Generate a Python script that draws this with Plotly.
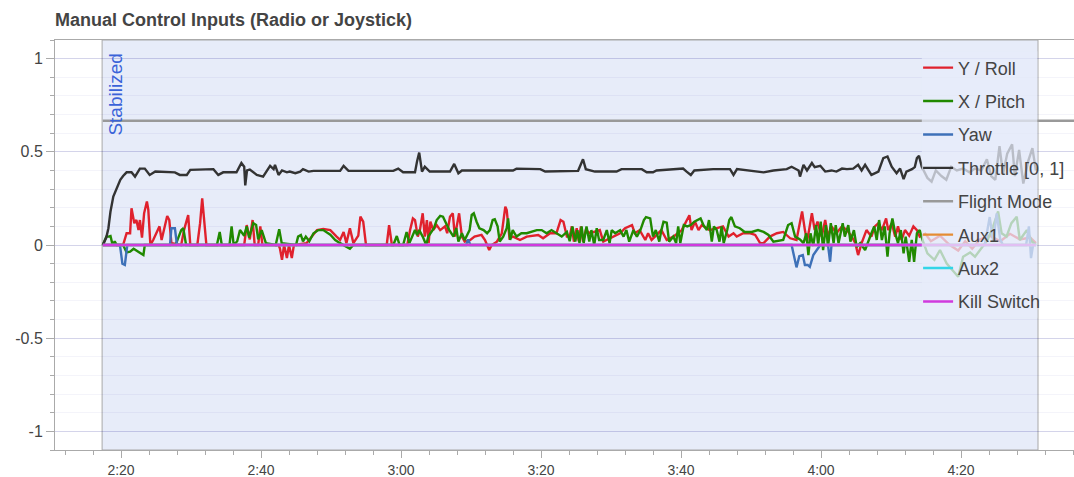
import plotly.graph_objects as go

# ---- data: (time in seconds, value) ---------------------------------------
THROTTLE = [
    (137.4, 0.0), (137.9, 0.04), (138.2, 0.09), (138.5, 0.18), (138.9, 0.26),
    (139.4, 0.31), (139.9, 0.35), (140.3, 0.37), (140.8, 0.39), (141.5, 0.39),
    (142.0, 0.367), (142.7, 0.41), (143.4, 0.41), (144.1, 0.376), (144.9, 0.394),
    (147.7, 0.39), (148.4, 0.376), (149.4, 0.376), (149.9, 0.403), (153.2, 0.407),
    (153.9, 0.376), (154.6, 0.39), (156.5, 0.39), (157.2, 0.44), (157.6, 0.42),
    (157.75, 0.32), (158.0, 0.40), (158.4, 0.405), (159.4, 0.376), (160.3, 0.367),
    (161.3, 0.425), (161.8, 0.407), (162.0, 0.43), (162.5, 0.376), (163.0, 0.40),
    (163.7, 0.39), (164.1, 0.394), (164.9, 0.385), (165.6, 0.394), (166.0, 0.407),
    (166.8, 0.394), (167.5, 0.398), (171.3, 0.398), (171.8, 0.425), (172.5, 0.398),
    (178.9, 0.398), (179.6, 0.41), (180.3, 0.39), (182.0, 0.39), (182.3, 0.45),
    (182.6, 0.496), (183.0, 0.394), (183.4, 0.42), (184.1, 0.394), (187.0, 0.394),
    (187.6, 0.435), (188.2, 0.385), (188.7, 0.40), (196.0, 0.40), (196.5, 0.41),
    (199.9, 0.407), (200.6, 0.394), (205.3, 0.398), (206.0, 0.46), (206.4, 0.407),
    (207.7, 0.394), (210.8, 0.394), (211.5, 0.407), (214.4, 0.407), (215.1, 0.39),
    (216.0, 0.39), (216.5, 0.40), (220.3, 0.41), (220.8, 0.394), (221.4, 0.376),
    (221.9, 0.40), (224.6, 0.407), (227.0, 0.407), (227.5, 0.376), (228.0, 0.407),
    (231.8, 0.39), (233.2, 0.40), (235.1, 0.407), (235.8, 0.42), (236.8, 0.40),
    (237.0, 0.367), (237.5, 0.43), (238.0, 0.40), (238.7, 0.44), (239.1, 0.418),
    (239.9, 0.425), (240.6, 0.394), (241.5, 0.40), (242.2, 0.394), (243.0, 0.41),
    (243.7, 0.407), (244.6, 0.41), (245.3, 0.43), (245.8, 0.40), (246.3, 0.43),
    (246.8, 0.40), (247.2, 0.376), (248.2, 0.394), (248.9, 0.466), (249.5, 0.475),
    (250.1, 0.42), (250.8, 0.385), (251.3, 0.41), (251.8, 0.353), (252.2, 0.394),
    (253.0, 0.407), (253.4, 0.418), (253.7, 0.466), (254.0, 0.478), (254.4, 0.42),
    (255.2, 0.36), (255.8, 0.34), (256.4, 0.40), (257.2, 0.37), (257.9, 0.35),
    (258.6, 0.42), (259.4, 0.40), (260.3, 0.41), (261.2, 0.39), (262.0, 0.41),
    (262.9, 0.40), (263.7, 0.46), (264.3, 0.37), (264.9, 0.35), (265.5, 0.53),
    (266.0, 0.38), (266.6, 0.49), (267.3, 0.54), (267.7, 0.37), (268.3, 0.51),
    (268.9, 0.33), (269.6, 0.45), (270.2, 0.52), (270.7, 0.40),
]

ROLL = [
    (137.4, 0.0), (140.3, 0.0), (140.8, 0.063), (141.3, 0.063), (141.5, 0.197),
    (141.9, 0.117), (142.2, 0.134), (142.5, 0.08), (142.7, 0.134), (143.0, 0.04),
    (143.3, 0.17), (143.7, 0.233), (143.9, 0.19), (144.2, 0.0), (144.6, 0.027),
    (145.5, 0.1), (145.8, 0.027), (146.6, 0.156), (146.9, 0.134), (147.2, 0.01),
    (148.6, 0.0), (149.0, 0.08), (149.6, 0.161), (149.9, 0.0), (150.9, 0.0),
    (151.3, 0.117), (151.6, 0.25), (152.0, 0.1), (152.2, 0.0), (157.6, 0.0),
    (157.96, 0.107), (158.4, 0.03), (158.8, 0.134), (159.1, 0.0), (159.6, 0.0),
    (159.9, 0.1), (160.2, 0.0), (162.5, 0.0), (162.7, -0.018), (163.0, -0.08),
    (163.3, 0.0), (163.7, -0.07), (164.0, 0.0), (164.4, -0.07), (164.7, 0.0),
    (166.5, 0.01), (167.2, 0.045), (168.0, 0.08), (168.9, 0.086), (169.9, 0.08),
    (170.8, 0.045), (171.3, 0.027), (171.8, 0.07), (172.2, 0.01), (172.7, 0.09),
    (173.2, 0.01), (173.9, 0.05), (174.2, 0.152), (174.6, 0.125), (175.0, 0.0),
    (177.96, 0.0), (178.3, 0.107), (178.7, 0.0), (180.9, 0.0), (181.3, 0.08),
    (181.7, 0.143), (182.0, 0.134), (182.4, 0.045), (182.7, 0.08), (183.1, 0.17),
    (183.4, 0.045), (183.7, 0.134), (183.95, 0.01), (184.2, 0.125), (184.6, 0.08),
    (185.1, 0.107), (185.6, 0.08), (186.3, 0.1), (186.6, 0.063), (187.0, 0.152),
    (187.4, 0.17), (187.7, 0.045), (188.3, 0.17), (188.7, 0.045), (189.1, 0.018),
    (189.9, 0.027), (190.5, 0.045), (191.5, 0.054), (192.0, 0.027), (192.6, -0.027),
    (192.96, 0.0), (193.7, 0.018), (194.4, 0.063), (194.9, 0.206), (195.1, 0.188),
    (195.5, 0.036), (196.0, 0.045), (197.0, 0.027), (197.96, 0.045), (199.6, 0.054),
    (200.3, 0.036), (201.3, 0.063), (202.2, 0.063), (202.8, 0.134), (203.2, 0.125),
    (203.7, 0.045), (204.1, 0.045), (204.4, 0.1), (204.7, 0.018), (205.1, 0.09),
    (205.4, 0.02), (205.7, 0.1), (206.0, 0.018), (206.4, 0.08), (207.0, 0.063),
    (208.4, 0.08), (208.9, 0.018), (210.3, 0.045), (211.3, 0.063), (212.0, 0.09),
    (213.0, 0.107), (213.4, 0.063), (214.1, 0.08), (214.9, 0.027), (215.3, 0.063),
    (215.8, 0.027), (217.2, 0.08), (217.96, 0.027), (218.9, 0.045), (220.1, 0.08),
    (220.8, 0.134), (221.2, 0.16), (221.5, 0.08), (222.0, 0.125), (222.5, 0.08),
    (222.96, 0.107), (224.1, 0.08), (225.1, 0.09), (226.0, 0.1), (226.8, 0.045),
    (227.5, 0.063), (227.96, 0.045), (228.9, 0.063), (229.9, 0.063), (230.6, 0.054),
    (231.3, 0.01), (231.8, 0.01), (232.7, 0.045), (233.7, 0.063), (234.6, 0.07),
    (235.6, 0.036), (236.5, 0.027), (237.0, 0.117), (237.3, 0.18), (237.7, 0.08),
    (238.0, 0.02), (238.3, 0.08), (238.7, 0.17), (239.1, 0.08), (239.5, 0.125),
    (240.1, 0.045), (240.6, 0.134), (241.0, 0.045), (241.5, 0.1), (242.2, 0.063),
    (243.0, 0.1), (243.7, 0.08), (244.4, 0.045), (244.9, 0.01), (245.3, -0.054),
    (245.8, 0.01), (246.5, 0.08), (247.2, 0.045), (247.7, 0.1), (248.2, 0.117),
    (248.7, 0.08), (249.3, 0.143), (249.6, 0.08), (250.1, 0.117), (250.6, 0.045),
    (251.0, 0.1), (251.5, 0.027), (252.0, 0.08), (252.6, 0.05), (253.2, 0.1),
    (253.7, 0.08), (254.1, 0.045), (254.9, 0.06), (255.7, 0.02), (257.0, 0.05),
    (258.4, 0.0), (259.6, -0.03), (260.6, 0.02), (261.6, -0.02), (262.7, 0.03),
    (264.1, 0.05), (265.6, 0.02), (267.0, 0.06), (268.4, 0.03), (269.9, 0.04),
    (270.7, 0.01),
]

PITCH = [
    (137.4, 0.0), (137.9, 0.045), (138.2, 0.045), (138.5, 0.048), (138.8, 0.0),
    (139.1, 0.02), (139.4, 0.0), (140.3, 0.0), (140.8, -0.04), (141.3, -0.036),
    (141.8, -0.02), (142.2, -0.03), (142.96, -0.045), (143.2, -0.054), (143.4, 0.0),
    (147.8, 0.0), (148.1, 0.03), (148.6, 0.08), (148.9, 0.09), (149.3, 0.0),
    (153.7, 0.0), (154.1, 0.07), (154.4, 0.0), (155.5, 0.0), (155.8, 0.1),
    (156.1, 0.0), (156.6, 0.02), (157.0, 0.08), (157.6, 0.05), (157.96, 0.1),
    (158.3, 0.04), (158.9, 0.117), (159.3, 0.107), (159.6, 0.03), (160.1, 0.08),
    (160.3, 0.06), (160.7, 0.01), (162.1, 0.0), (162.6, 0.085), (162.96, 0.01),
    (165.0, 0.0), (165.3, 0.045), (165.7, 0.054), (166.0, 0.02), (166.4, 0.045),
    (166.9, 0.02), (167.5, 0.063), (168.2, 0.08), (168.9, 0.08), (169.9, 0.055),
    (170.6, 0.027), (171.3, 0.01), (172.2, -0.01), (172.7, -0.02), (173.2, 0.0),
    (178.9, 0.0), (179.4, 0.048), (179.8, 0.0), (180.3, 0.0), (180.8, 0.07),
    (181.2, 0.01), (182.0, 0.08), (182.3, 0.054), (182.6, 0.08), (183.1, 0.045),
    (183.6, 0.0), (183.9, 0.045), (184.7, 0.09), (185.1, 0.134), (185.6, 0.156),
    (186.0, 0.152), (186.5, 0.107), (186.9, 0.08), (187.5, 0.045), (187.9, 0.09),
    (188.2, 0.018), (188.7, 0.063), (189.1, 0.027), (189.8, 0.08), (190.1, 0.161),
    (190.4, 0.17), (190.8, 0.125), (191.2, 0.09), (191.8, 0.08), (192.3, 0.063),
    (192.7, 0.08), (193.1, 0.134), (193.4, 0.138), (193.8, 0.1), (194.1, 0.018),
    (194.6, 0.045), (195.1, 0.09), (195.3, 0.143), (195.6, 0.027), (195.96, 0.08),
    (196.5, 0.045), (197.2, 0.063), (197.96, 0.063), (198.7, 0.07), (199.4, 0.08),
    (200.1, 0.08), (200.8, 0.063), (201.5, 0.08), (202.2, 0.063), (202.96, 0.045),
    (203.7, 0.07), (204.1, 0.02), (204.5, 0.1), (204.9, 0.018), (205.2, 0.08),
    (205.5, 0.01), (205.8, 0.1), (206.1, 0.01), (206.5, 0.1), (206.9, 0.018),
    (207.2, 0.08), (207.6, 0.0), (207.96, 0.09), (208.3, 0.027), (208.9, 0.027),
    (209.4, 0.08), (209.8, 0.01), (210.1, 0.08), (210.6, 0.063), (211.3, 0.08),
    (211.8, 0.045), (212.2, 0.08), (212.6, 0.018), (213.2, 0.08), (213.7, 0.045),
    (214.2, 0.08), (214.7, 0.134), (215.0, 0.15), (215.6, 0.143), (216.0, 0.045),
    (216.4, 0.08), (216.9, 0.018), (217.2, 0.08), (217.5, 0.125), (217.96, 0.12),
    (218.3, 0.018), (218.9, 0.045), (219.3, 0.01), (219.6, 0.1), (219.9, 0.01),
    (220.4, 0.107), (220.9, 0.1), (221.4, 0.107), (221.9, 0.125), (222.8, 0.143),
    (223.2, 0.107), (223.7, 0.08), (224.0, 0.134), (224.4, 0.018), (224.7, 0.1),
    (225.1, 0.08), (225.5, 0.018), (225.8, 0.1), (226.1, 0.01), (226.6, 0.08),
    (226.9, 0.134), (227.2, 0.15), (227.7, 0.1), (228.4, 0.09), (229.1, 0.07),
    (230.1, 0.07), (231.0, 0.08), (231.8, 0.07), (232.5, 0.054), (233.2, 0.018),
    (234.6, 0.027), (235.3, 0.107), (235.8, 0.117), (236.3, 0.045), (237.0, 0.03),
    (237.5, 0.01), (237.9, 0.063), (238.2, -0.054), (238.5, 0.063), (238.9, -0.005),
    (239.3, 0.107), (239.6, 0.0), (239.96, 0.125), (240.3, -0.027), (240.7, 0.107),
    (241.0, -0.01), (241.4, 0.117), (241.8, 0.01), (242.1, 0.107), (242.5, 0.01),
    (243.1, 0.117), (243.4, 0.045), (243.9, 0.107), (244.2, 0.018), (244.7, 0.08),
    (245.1, -0.01), (245.6, 0.01), (246.3, -0.027), (246.8, 0.027), (247.2, 0.063),
    (247.6, 0.1), (247.96, 0.027), (248.3, 0.134), (248.7, 0.027), (249.1, 0.1),
    (249.5, -0.063), (249.8, 0.063), (250.2, 0.143), (250.6, 0.063), (251.0, 0.01),
    (251.4, 0.08), (251.8, -0.045), (252.1, 0.045), (252.6, -0.09), (252.96, 0.027),
    (253.3, -0.09), (253.7, 0.063), (254.1, 0.08), (254.5, 0.027), (255.2, -0.045),
    (256.2, -0.08), (257.0, -0.027), (257.96, -0.1), (259.1, -0.15), (259.6, -0.17),
    (260.3, -0.063), (261.3, -0.04), (262.0, -0.063), (262.7, -0.027), (263.8, 0.027),
    (264.6, 0.1), (265.3, 0.18), (265.8, 0.063), (266.5, 0.045), (267.2, 0.117),
    (267.96, 0.152), (268.4, 0.027), (269.4, 0.08), (270.1, 0.02), (270.7, 0.0),
]

YAW = [
    (137.4, 0.0), (139.85, 0.0), (140.2, -0.1), (140.55, -0.107), (140.9, 0.0),
    (147.0, 0.0), (147.2, 0.09), (147.7, 0.09), (148.0, 0.0), (189.3, 0.0),
    (189.6, 0.03), (189.9, 0.0), (235.8, 0.0), (236.1, -0.06), (236.5, -0.12),
    (236.9, -0.06), (237.4, -0.054), (237.7, -0.107), (238.1, -0.107), (238.4, -0.117),
    (238.9, -0.054), (239.4, -0.027), (239.9, 0.0), (241.0, 0.0), (241.3, -0.09),
    (241.5, 0.0), (263.4, 0.0), (264.1, 0.15), (264.6, 0.02), (265.1, 0.17),
    (265.6, 0.03), (266.0, 0.0), (269.3, 0.0), (269.7, 0.1), (270.0, -0.07),
    (270.3, 0.0), (270.7, 0.0),
]

FLIGHT_MODE = [(137.4, 0.667), (276.5, 0.667)]
AUX1 = [(137.4, 0.0), (270.7, 0.0)]
AUX2 = [(137.4, 0.0), (270.7, 0.0)]
KILL_SWITCH = [(137.4, 0.0), (270.7, 0.0)]

SERIES_NAMES = ["Y / Roll", "X / Pitch", "Yaw", "Throttle [0, 1]",
                "Flight Mode", "Aux1", "Aux2", "Kill Switch"]
SERIES_COLORS = ["#e0212d", "#208900", "#3e71b8", "#333333",
                 "#999999", "#e58c33", "#33d5e8", "#d03ade"]

X_TICKS = [140, 160, 180, 200, 220, 240, 260]
X_TICK_LABELS = ["2:20", "2:40", "3:00", "3:20", "3:40", "4:00", "4:20"]
Y_TICKS = [-1, -0.5, 0, 0.5, 1]
Y_TICK_LABELS = ["-1", "-0.5", "0", "0.5", "1"]

MODE_LABEL = "Stabilized"
MODE_START, MODE_END = 137.3, 271.0

# ---- figure ----------------------------------------------------------------
FONT = "Liberation Sans, Arial, Helvetica, sans-serif"
SHADE = "#e7ecf9"
fig = go.Figure()

all_series = [ROLL, PITCH, YAW, THROTTLE, FLIGHT_MODE, AUX1, AUX2, KILL_SWITCH]
for name, color, pts in zip(SERIES_NAMES, SERIES_COLORS, all_series):
    t, v = zip(*pts)
    fig.add_trace(go.Scatter(
        x=list(t), y=list(v), mode="lines", name=name,
        legendgroup=name,
        line=dict(color=color, width=2.4),
        hoverinfo="skip",
    ))

# flight-mode shading
fig.add_shape(type="rect", xref="x", yref="paper",
              x0=MODE_START, x1=MODE_END, y0=0, y1=1,
              fillcolor=SHADE, line=dict(color="#a8a8a8", width=1),
              layer="below")
# translucent panel under the legend entries
fig.add_shape(type="rect", xref="x", yref="y",
              x0=254.4, x1=MODE_END - 0.1, y0=-0.39, y1=1.04,
              fillcolor="rgba(231,236,249,0.75)", line=dict(width=0),
              layer="above")

fig.add_annotation(text=MODE_LABEL, textangle=-90,
                   x=MODE_START, xref="x", xanchor="left", xshift=0,
                   y=1, yref="paper", yanchor="top", yshift=-12,
                   showarrow=False,
                   font=dict(family=FONT, size=19, color="#3a63d8"))

fig.update_layout(
    width=1074, height=477,
    margin=dict(l=55, r=0, t=40, b=27),
    paper_bgcolor="white", plot_bgcolor="white",
    font=dict(family=FONT, color="#444444"),
    title=dict(text="Manual Control Inputs (Radio or Joystick)",
               x=55 / 1074, xref="container", xanchor="left",
               y=1 - 20 / 477, yref="container", yanchor="middle",
               font=dict(family=FONT, size=18, color="#444444", weight="bold")),
    showlegend=True,
    legend=dict(x=0.847, y=0.977, xanchor="left", yanchor="top",
                bgcolor="rgba(0,0,0,0)", borderwidth=0,
                traceorder="grouped", tracegroupgap=7,
                font=dict(family=FONT, size=18, color="#444444")),
    xaxis=dict(range=[130.571, 276.143], showgrid=False, zeroline=False,
               tickmode="array", tickvals=X_TICKS, ticktext=X_TICK_LABELS,
               ticks="outside", ticklen=7, tickcolor="#aaaaaa",
               showline=True, linecolor="#aaaaaa", linewidth=1, mirror=True,
               tickfont=dict(size=14, color="#444444"),
               minor=dict(tickmode="linear", tick0=0, dtick=4, ticks="outside",
                          ticklen=4, tickcolor="#aaaaaa", showgrid=False)),
    yaxis=dict(range=[-1.1, 1.1], zeroline=False,
               tickmode="array", tickvals=Y_TICKS, ticktext=Y_TICK_LABELS,
               ticks="outside", ticklen=8, tickcolor="#aaaaaa",
               showline=True, linecolor="#aaaaaa", linewidth=1,
               showgrid=True, gridcolor="rgba(0,0,128,0.13)", gridwidth=1,
               tickfont=dict(size=16, color="#444444"),
               minor=dict(tickmode="linear", tick0=0, dtick=0.1, ticks="outside",
                          ticklen=4, tickcolor="#aaaaaa", showgrid=True,
                          gridcolor="rgba(0,0,128,0.045)")),
)

fig.write_html("out.html")
